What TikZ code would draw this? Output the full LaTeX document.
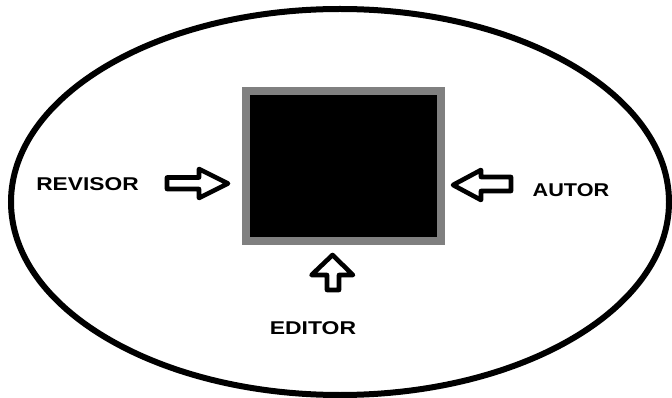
\documentclass[tikz,border=0pt]{standalone}
\usepackage{fontspec}
\setmainfont{Liberation Sans}
\usetikzlibrary{shapes.geometric}
\definecolor{framegray}{RGB}{128,128,128}
\begin{document}
\begin{tikzpicture}[x=1pt,y=-1pt,
  lbl/.style={font=\bfseries\fontsize{18.5}{18.5}\selectfont, inner sep=0pt, text=black},
  blockarrow/.style={draw=black, line width=4.6pt, fill=white, line join=round, line cap=round},
  world/.style={draw=black, line width=6pt, ellipse, inner sep=0pt},
  boxstyle/.style={draw=framegray, fill=black, line width=8pt, inner sep=0pt}]
\useasboundingbox (0,0) rectangle (672,398);
\node[world, minimum width=658pt, minimum height=386pt] (world) at (340,202) {};
\node[boxstyle, minimum width=195pt, minimum height=150pt] (box) at (343.5,166) {};
\node[lbl] (revisor) at (87.5,184) {\scalebox{1.23}[1]{REVISOR}};
\node[lbl] (autor) at (571,190) {\scalebox{1.17}[1]{AUTOR}};
\node[lbl] (editor) at (313,328.5) {\scalebox{1.24}[1]{EDITOR}};
% block arrows
\draw[blockarrow] (167,177.5) -- (199,177.5) -- (199,169) -- (228,183.5) -- (199,198) -- (199,189) -- (167,189) -- cycle;
\draw[blockarrow] (511,177) -- (481,177) -- (481,170) -- (453,185) -- (481,200) -- (481,191) -- (511,191) -- cycle;
\draw[blockarrow] (327,290) -- (327,275) -- (311.5,275) -- (332.5,255) -- (353,275) -- (339,275) -- (339,290) -- cycle;
\end{tikzpicture}
\end{document}
